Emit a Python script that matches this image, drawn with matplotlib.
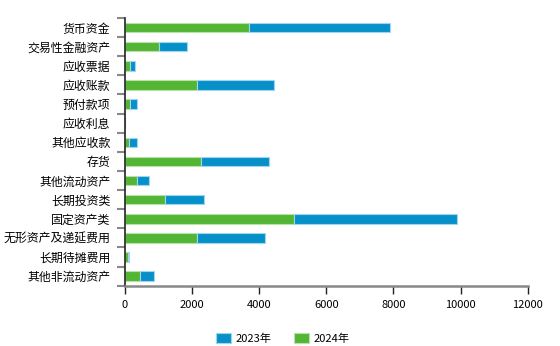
import matplotlib
matplotlib.use('Agg')
import matplotlib.pyplot as plt
import numpy as np

plt.rcParams['font.family'] = ['Noto Sans CJK SC', 'DejaVu Sans']

categories = ['货币资金', '交易性金融资产', '应收票据', '应收账款', '预付款项', '应收利息',
              '其他应收款', '存货', '其他流动资产', '长期投资类', '固定资产类',
              '无形资产及递延费用', '长期待摊费用', '其他非流动资产']
v2024 = [3700, 1015, 140, 2150, 160, 0, 130, 2260, 360, 1200, 5040, 2150, 80, 440]
v2023 = [4210, 835, 170, 2300, 190, 0, 220, 2040, 360, 1160, 4860, 2020, 50, 420]
xticks = [0, 2000, 4000, 6000, 8000, 10000, 12000]

blue = '#0690ca'
green = '#52b534'

fig = plt.figure(figsize=(5.6, 3.46), dpi=100)
ax = fig.add_axes([0.2232, 0.1743, 0.7191, 0.7737])

y = np.arange(len(categories))
ax.barh(y, v2024, height=0.5, color=green, edgecolor='#b8e3a8', linewidth=0.8, label='2024年')
ax.barh(y, v2023, left=v2024, height=0.5, color=blue, edgecolor='#9fd6ee', linewidth=0.8, label='2023年')

ax.set_ylim(len(categories) - 0.5, -0.5)
ax.set_xlim(0, 12000)
ax.set_yticks(y)
ax.set_yticklabels(categories, fontsize=8.6)
ax.set_yticks(np.arange(len(categories) + 1) - 0.5, minor=True)
ax.tick_params(axis='y', which='major', length=0, pad=10.5)
ax.tick_params(axis='y', which='minor', length=5.8, width=1.5, color='#888888')
ax.set_xticks(xticks)
ax.set_xticklabels([str(t) for t in xticks], fontsize=8)
ax.tick_params(axis='x', length=6, width=1, color='#222222', pad=4)

for s in ['top', 'right']:
    ax.spines[s].set_visible(False)
ax.spines['left'].set_color('#222222')
ax.spines['left'].set_linewidth(1.2)
ax.spines['bottom'].set_color('#888888')
ax.spines['bottom'].set_linewidth(1.8)

h, l = ax.get_legend_handles_labels()
fig.legend(h[::-1], l[::-1], loc='center', bbox_to_anchor=(0.505, 0.022), ncol=2,
           frameon=False, fontsize=8, handlelength=1.4, handleheight=1.1,
           columnspacing=2.0, handletextpad=0.4)

fig.savefig('out.png', dpi=100)
